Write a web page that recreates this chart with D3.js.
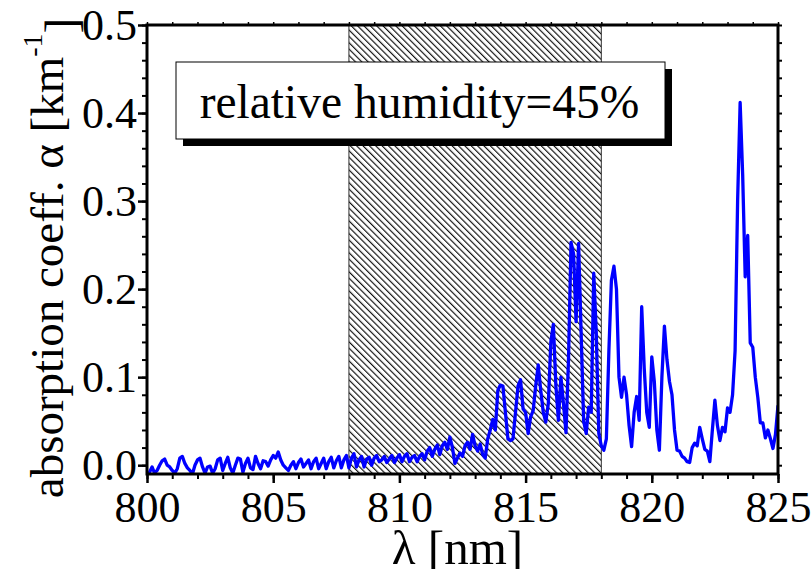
<!DOCTYPE html>
<html lang="en">
<head>
<meta charset="UTF-8">
<script src="https://cdn.jsdelivr.net/npm/d3@7"></script>
<style>
  body { margin: 0; background: #fff; }
</style>
</head>
<body>
<script>
// spectrum sampled every 0.1 nm from 800 nm
const lambdaStart = 800;
const lambdaStep = 0.1;
const alpha = [
  -0.010, -0.008, -0.002, -0.009, -0.006, 0.000, 0.005, 0.007, 0.000, -0.002,
  -0.006, -0.009, -0.004, 0.008, 0.010, 0.002, -0.003, -0.006, -0.010, 0.000,
  0.006, 0.008, -0.002, -0.009, -0.002, -0.001, -0.009, -0.004, 0.006, 0.008,
  -0.006, 0.002, 0.009, -0.003, -0.009, 0.000, 0.008, 0.007, -0.008, 0.002,
  0.008, -0.003, -0.005, 0.010, 0.002, -0.004, 0.005, 0.004, -0.001, 0.006,
  0.011, 0.008, 0.015, 0.006, 0.000, -0.003, -0.006, 0.000, 0.004, -0.004,
  0.003, 0.007, -0.002, 0.002, 0.006, -0.004, 0.004, 0.008, -0.004, 0.002,
  0.008, -0.004, 0.004, 0.009, -0.003, 0.005, 0.010, -0.003, 0.006, 0.011,
  -0.003, 0.008, 0.013, -0.002, 0.006, 0.010, -0.002, 0.007, 0.009, 0.000,
  0.008, 0.011, 0.004, 0.006, 0.010, 0.003, 0.007, 0.011, 0.003, 0.008,
  0.012, 0.004, 0.010, 0.013, 0.004, 0.009, 0.011, 0.004, 0.010, 0.013,
  0.006, 0.016, 0.020, 0.010, 0.018, 0.023, 0.012, 0.022, 0.026, 0.018,
  0.032, 0.020, 0.002, 0.008, 0.014, 0.010, 0.022, 0.026, 0.018, 0.035,
  0.022, 0.016, 0.024, 0.012, 0.008, 0.030, 0.040, 0.052, 0.040, 0.085,
  0.091, 0.090, 0.060, 0.030, 0.028, 0.030, 0.060, 0.090, 0.097, 0.064,
  0.060, 0.036, 0.055, 0.062, 0.090, 0.114, 0.085, 0.060, 0.049, 0.070,
  0.140, 0.160, 0.090, 0.051, 0.100, 0.070, 0.037, 0.120, 0.253, 0.240,
  0.163, 0.252, 0.150, 0.050, 0.036, 0.066, 0.060, 0.218, 0.150, 0.036,
  0.022, 0.017, 0.030, 0.130, 0.210, 0.226, 0.200, 0.100, 0.077, 0.100,
  0.080, 0.045, 0.021, 0.060, 0.078, 0.051, 0.180, 0.110, 0.060, 0.043,
  0.123, 0.095, 0.040, 0.017, 0.100, 0.158, 0.120, 0.095, 0.080, 0.040,
  0.017, 0.016, 0.010, 0.008, 0.004, 0.003, 0.020, 0.025, 0.022, 0.043,
  0.030, 0.018, 0.016, 0.004, 0.040, 0.074, 0.045, 0.028, 0.043, 0.038,
  0.065, 0.060, 0.080, 0.130, 0.300, 0.412, 0.330, 0.214, 0.261, 0.139,
  0.134, 0.100, 0.077, 0.048, 0.048, 0.031, 0.040, 0.030, 0.019, 0.035,
  0.068
];
const xTicks = [800, 805, 810, 815, 820, 825];
const yTicks = [0.0, 0.1, 0.2, 0.3, 0.4, 0.5];
const band = [808, 818];
const legendText = "relative humidity=45%";

const W = 812, H = 569;
const m = {left: 147, right: 778, top: 25, bottom: 474};
const serif = '"Liberation Serif", "Times New Roman", Times, serif';

const svg = d3.select("body").append("svg")
    .attr("width", W).attr("height", H);

const x = d3.scaleLinear().domain([800, 825]).range([m.left, m.right]);
const y = d3.scaleLinear().domain([-0.01, 0.5]).range([m.bottom, m.top]);

const data = alpha.map((a, i) => ({l: lambdaStart + i * lambdaStep, a: a}));

const defs = svg.append("defs");
defs.append("pattern")
    .attr("id", "hatch")
    .attr("patternUnits", "userSpaceOnUse")
    .attr("width", 4.5).attr("height", 10)
    .attr("patternTransform", "rotate(-45)")
  .append("line")
    .attr("x1", 0.6).attr("y1", 0).attr("x2", 0.6).attr("y2", 10)
    .attr("stroke", "#000").attr("stroke-width", 1.1);
defs.append("clipPath").attr("id", "plotClip")
  .append("rect")
    .attr("x", m.left).attr("y", m.top)
    .attr("width", m.right - m.left).attr("height", m.bottom - m.top);

// hatched band
svg.append("rect")
    .attr("x", x(band[0])).attr("y", m.top)
    .attr("width", x(band[1]) - x(band[0]))
    .attr("height", m.bottom - m.top)
    .attr("fill", "url(#hatch)")
    .attr("stroke", "#333").attr("stroke-width", 1);

// legend box with shadow
const bx = 176, by = 62, bw = 489, bh = 77;
svg.append("rect").attr("x", bx + 7).attr("y", by + 7)
    .attr("width", bw).attr("height", bh).attr("fill", "#000");
svg.append("rect").attr("x", bx).attr("y", by)
    .attr("width", bw).attr("height", bh)
    .attr("fill", "#fff").attr("stroke", "#000").attr("stroke-width", 1);
svg.append("text")
    .attr("x", bx + bw / 2 - 1).attr("y", by + 56)
    .attr("text-anchor", "middle")
    .style("font-size", "47.5px")
    .text(legendText);

// spectrum
svg.append("path")
    .datum(data)
    .attr("clip-path", "url(#plotClip)")
    .attr("fill", "none")
    .attr("stroke", "#0000ff")
    .attr("stroke-width", 3.3)
    .attr("stroke-linejoin", "round")
    .attr("d", d3.line().x(d => x(d.l)).y(d => y(d.a)));

// axes
const font = g => g.selectAll("text").style("font-size", "44px");
const noDomain = g => g.select(".domain").remove();

svg.append("g").attr("transform", `translate(0,${m.bottom})`)
    .call(d3.axisBottom(x).tickValues(d3.range(800, 826, 1)).tickSize(5).tickFormat(""))
    .call(noDomain).selectAll("line").attr("stroke-width", 2);
svg.append("g").attr("transform", `translate(0,${m.bottom})`)
    .call(d3.axisBottom(x).tickValues(xTicks).tickSize(9).tickPadding(8).tickFormat(d3.format("d")))
    .call(noDomain).call(font)
    .call(g => g.selectAll("line").attr("stroke-width", 2.5));

svg.append("g").attr("transform", `translate(${m.left},0)`)
    .call(d3.axisLeft(y).tickValues(d3.range(0, 0.501, 0.02)).tickSize(5).tickFormat(""))
    .call(noDomain).selectAll("line").attr("stroke-width", 2);
svg.append("g").attr("transform", `translate(${m.left},0)`)
    .call(d3.axisLeft(y).tickValues(yTicks).tickSize(9).tickPadding(1).tickFormat(d3.format(".1f")))
    .call(noDomain).call(font)
    .call(g => g.selectAll("text").attr("dy", "0.32em"))
    .call(g => g.selectAll("line").attr("stroke-width", 2.5));

// top and right ticks
svg.append("g").attr("transform", `translate(0,${m.top})`)
    .call(d3.axisTop(x).tickValues(d3.range(800, 826, 1)).tickSize(3).tickFormat(""))
    .call(noDomain).selectAll("line").attr("stroke-width", 1.5);
svg.append("g").attr("transform", `translate(${m.right},0)`)
    .call(d3.axisRight(y).tickValues(d3.range(0, 0.501, 0.02)).tickSize(4).tickFormat(""))
    .call(noDomain).selectAll("line").attr("stroke-width", 2);

// frame
svg.append("rect")
    .attr("x", m.left).attr("y", m.top)
    .attr("width", m.right - m.left).attr("height", m.bottom - m.top)
    .attr("fill", "none").attr("stroke", "#000").attr("stroke-width", 3);

// axis titles
svg.append("text")
    .attr("x", x(812.3)).attr("y", 564)
    .attr("text-anchor", "middle")
    .style("font-size", "49px")
    .text("λ [nm]");

const yt = svg.append("text")
    .attr("transform", `translate(63,258) rotate(-90)`)
    .attr("text-anchor", "middle")
    .style("font-size", "47px");
yt.append("tspan").text("absorption coeff. α [km");
yt.append("tspan").attr("dy", "-0.75em").style("font-size", "28px").text("-1");
yt.append("tspan").attr("dy", "0.75em").text("]");

svg.selectAll("text").style("font-family", serif).attr("fill", "#000");
</script>
</body>
</html>
